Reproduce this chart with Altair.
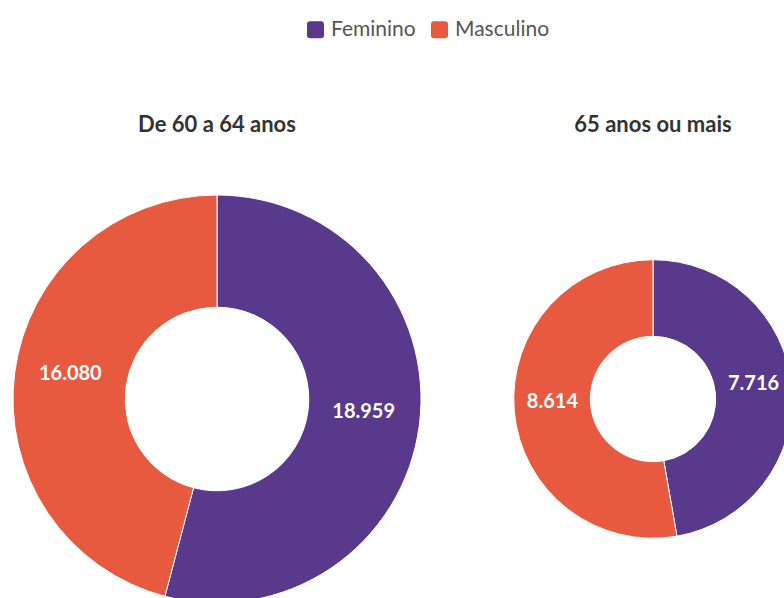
import altair as alt
import pandas as pd

groups = ["De 60 a 64 anos", "De 60 a 64 anos", "65 anos ou mais", "65 anos ou mais"]
sexes = ["Feminino", "Masculino", "Feminino", "Masculino"]
values = [18959, 16080, 7716, 8614]
labels = ["18.959", "16.080", "7.716", "8.614"]
group_order = ["De 60 a 64 anos", "65 anos ou mais"]
sex_order = ["Feminino", "Masculino"]
colors = ["#58398c", "#e85a40"]

df = pd.DataFrame({"group": groups, "sex": sexes, "value": values, "label": labels})
titles_df = pd.DataFrame({"group": group_order})

FONT = "Lato"
x_scale = alt.Scale(type="point", domain=group_order, range=[217, 653], padding=0)
r_scale = alt.Scale(type="sqrt", zero=True, nice=False, range=[0, 204])
t_scale = alt.Scale(domain=[0, 1], range=[0, 6.283185307179586])

rounded_sq = ("M -0.65 -1 L 0.65 -1 Q 1 -1 1 -0.65 L 1 0.65 Q 1 1 0.65 1 "
              "L -0.65 1 Q -1 1 -1 0.65 L -1 -0.65 Q -1 -1 -0.65 -1 Z")

base = alt.Chart(df).transform_calculate(
    sexIdx="indexof(" + str(sex_order) + ", datum.sex)"
).transform_joinaggregate(
    total="sum(value)", groupby=["group"]
).transform_window(
    cum="sum(value)", sort=[alt.SortField("sexIdx")], groupby=["group"], frame=[None, 0]
).transform_calculate(
    start="(datum.cum - datum.value) / datum.total",
    end="datum.cum / datum.total",
    mid="(datum.cum - datum.value / 2) / datum.total",
    inner="datum.total * 0.2025",
    labr="datum.total * 0.5256",
)

arcs = base.mark_arc(stroke="white", strokeWidth=1).encode(
    x=alt.X("group:N", scale=x_scale, axis=None),
    y=alt.value(399),
    theta=alt.Theta("start:Q", scale=t_scale),
    theta2="end:Q",
    radius=alt.Radius("total:Q", scale=r_scale),
    radius2="inner:Q",
    color=alt.Color(
        "sex:N",
        scale=alt.Scale(domain=sex_order, range=colors),
        legend=alt.Legend(
            orient="none", legendX=305, legendY=19, direction="horizontal",
            title=None, padding=0, symbolType=rounded_sq, symbolSize=289,
            symbolStrokeWidth=0, labelFont=FONT, labelFontSize=21,
            labelColor="#555555", labelOffset=5, columnPadding=13,
        ),
    ),
)

text = base.mark_text(font=FONT, fontSize=20, fontWeight="bold", color="white", dy=-6).encode(
    x=alt.X("group:N", scale=x_scale, axis=None),
    y=alt.value(399),
    theta=alt.Theta("mid:Q", scale=t_scale),
    radius=alt.Radius("labr:Q", scale=r_scale),
    text="label:N",
)

titles = alt.Chart(titles_df).mark_text(
    font=FONT, fontSize=22, fontWeight="bold", color="#333333"
).encode(
    x=alt.X("group:N", scale=x_scale, axis=None),
    y=alt.value(125),
    text="group:N",
)

chart = alt.layer(arcs, text, titles).properties(
    width=784, height=598, padding=0,
    autosize=alt.AutoSizeParams(type="none"),
).configure_view(stroke=None)

chart.save("out.html", embed_options={"renderer": "svg", "actions": False})
